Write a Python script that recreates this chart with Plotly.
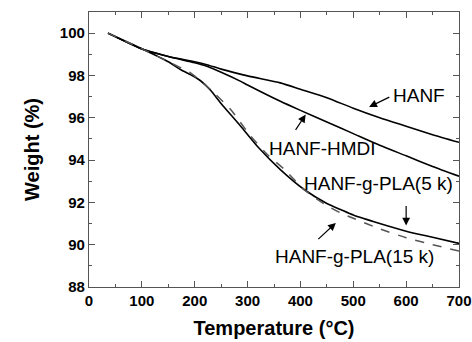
import plotly.graph_objects as go

hanf_t = [36, 100, 150, 200, 223, 250, 300, 362, 400, 450, 500, 550, 600, 650, 700]
hanf_w = [100, 99.25, 98.9, 98.65, 98.51, 98.3, 97.98, 97.65, 97.35, 96.95, 96.45, 96.0, 95.6, 95.2, 94.84]

hmdi_t = [36, 100, 150, 200, 223, 250, 287, 300, 362, 400, 450, 500, 550, 600, 650, 700]
hmdi_w = [100, 99.25, 98.9, 98.6, 98.43, 98.15, 97.72, 97.55, 96.78, 96.35, 95.8, 95.25, 94.7, 94.2, 93.7, 93.24]

pla5_t = [36, 97, 150, 173, 195, 211, 230, 249, 287, 321, 362, 407, 450, 476, 500, 550, 600, 650, 700]
pla5_w = [100, 99.3, 98.65, 98.28, 98.0, 97.75, 97.3, 96.7, 95.6, 94.58, 93.55, 92.61, 91.95, 91.66, 91.4, 91.0, 90.64, 90.35, 90.06]

pla15_t = [36, 97, 150, 192, 230, 268, 306, 340, 370, 407, 450, 476, 500, 550, 600, 650, 700]
pla15_w = [100, 99.3, 98.65, 98.12, 97.33, 96.39, 95.13, 94.2, 93.55, 92.6, 91.85, 91.5, 91.25, 90.75, 90.33, 90.0, 89.7]

x_ticks = [0, 100, 200, 300, 400, 500, 600, 700]
y_ticks = [88, 90, 92, 94, 96, 98, 100]
x_range = [0, 700]
y_range = [88, 101]

FONT = "Liberation Sans, Arial"
AXC = "#555555"

fig = go.Figure()
line_kw = dict(mode="lines", line_shape="spline", showlegend=False, hoverinfo="skip")
fig.add_trace(go.Scatter(x=hanf_t, y=hanf_w, line=dict(color="black", width=1.6, smoothing=0.6), **line_kw))
fig.add_trace(go.Scatter(x=hmdi_t, y=hmdi_w, line=dict(color="black", width=1.6, smoothing=0.6), **line_kw))
fig.add_trace(go.Scatter(x=pla5_t, y=pla5_w, line=dict(color="black", width=1.6, smoothing=0.6), **line_kw))
fig.add_trace(go.Scatter(x=pla15_t, y=pla15_w, line=dict(color=AXC, width=1.5, dash="dash", smoothing=0.6), **line_kw))
# invisible trace bound to the mirror axes so they are drawn
fig.add_trace(go.Scatter(x=[x_range[0]], y=[y_range[0]], xaxis="x2", yaxis="y2", mode="markers",
                         marker=dict(opacity=0), showlegend=False, hoverinfo="skip"))

labels = [
    ("HANF", 624, 97.05),
    ("HANF-HMDI", 442, 94.54),
    ("HANF-g-PLA(5 k)", 548, 92.89),
    ("HANF-g-PLA(15 k)", 503, 89.44),
]
for txt, x, y in labels:
    fig.add_annotation(x=x, y=y, text=txt, showarrow=False,
                       font=dict(family=FONT, size=19, color="black"))

arrows = [
    (530, 96.51, 571, 97.01),
    (410, 96.15, 389, 95.36),
    (600, 90.91, 600, 91.9),
    (467, 91.03, 431, 90.2),
]
for x, y, ax, ay in arrows:
    fig.add_annotation(x=x, y=y, ax=ax, ay=ay, axref="x", ayref="y", text="",
                       showarrow=True, arrowhead=2, arrowsize=1.3, arrowwidth=1.2,
                       arrowcolor="black")

axis_common = dict(
    showgrid=False, zeroline=False, showline=True, linecolor=AXC, linewidth=1.2,
    ticks="inside", ticklen=6, tickwidth=1.2, tickcolor=AXC,
    tickfont=dict(family=FONT, size=15, color="black", weight="bold"),
    automargin=False,
)
xminor = dict(ticks="inside", ticklen=3, dtick=50, tickcolor=AXC)
yminor = dict(ticks="inside", ticklen=3, dtick=1, tickcolor=AXC)

fig.update_layout(
    xaxis=dict(range=x_range, tickvals=x_ticks, ticktext=[str(v) for v in x_ticks], minor=xminor,
               title=dict(text="Temperature (°C)", standoff=12,
                          font=dict(family=FONT, size=20, color="black", weight="bold")),
               **axis_common),
    yaxis=dict(range=y_range, tickvals=y_ticks, ticktext=[str(v) for v in y_ticks], minor=yminor,
               title=dict(text="Weight (%)", standoff=14,
                          font=dict(family=FONT, size=20, color="black", weight="bold")),
               **axis_common),
    xaxis2=dict(range=x_range, tickvals=x_ticks, showticklabels=False, minor=xminor,
                overlaying="x", side="top", anchor="y2", **axis_common),
    yaxis2=dict(range=y_range, tickvals=y_ticks, showticklabels=False, minor=yminor,
                overlaying="y", side="right", anchor="x2", **axis_common),
    width=472, height=342, margin=dict(l=89, r=13, t=12, b=55),
    plot_bgcolor="white", paper_bgcolor="white",
)

fig.write_html("out.html", config={"displayModeBar": False},
               post_script="document.body.style.margin='0';document.body.style.overflow='hidden';")
